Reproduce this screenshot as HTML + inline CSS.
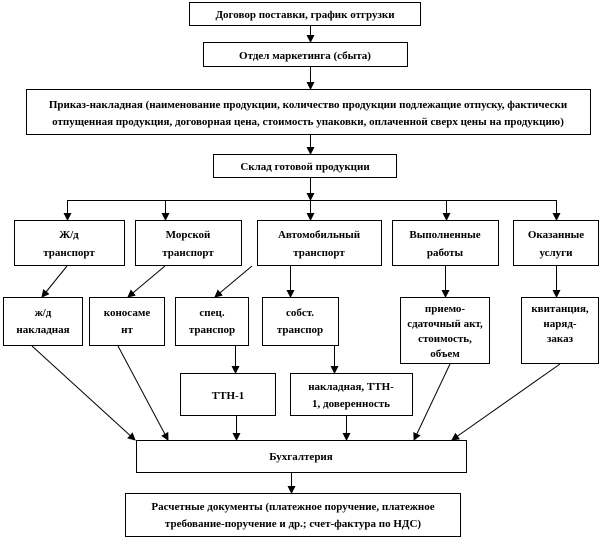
<!DOCTYPE html>
<html><head><meta charset="utf-8"><style>
body{margin:0;background:#fff}
svg text{font-family:"Liberation Serif",serif;font-size:11px;font-weight:bold;text-anchor:middle}
</style></head><body>
<svg width="606" height="540" viewBox="0 0 606 540" xmlns="http://www.w3.org/2000/svg">
<defs><marker id="a" markerWidth="8" markerHeight="8" refX="7" refY="4" orient="auto" markerUnits="userSpaceOnUse"><path d="M0,0 L8,4 L0,8 z" fill="#000"/></marker></defs>
<g fill="none" stroke="#000" stroke-width="1">
<rect x="189.5" y="2.5" width="231" height="23"/>
<rect x="203.5" y="42.5" width="204" height="24"/>
<rect x="26.5" y="89.5" width="564" height="45"/>
<rect x="213.5" y="154.5" width="183" height="23"/>
<rect x="14.5" y="220.5" width="110" height="45"/>
<rect x="135.5" y="220.5" width="106" height="45"/>
<rect x="257.5" y="220.5" width="124" height="45"/>
<rect x="392.5" y="220.5" width="106" height="45"/>
<rect x="513.5" y="220.5" width="85" height="45"/>
<rect x="3.5" y="297.5" width="79" height="48"/>
<rect x="89.5" y="297.5" width="75" height="48"/>
<rect x="175.5" y="297.5" width="73" height="48"/>
<rect x="262.5" y="297.5" width="76" height="48"/>
<rect x="400.5" y="297.5" width="89" height="66"/>
<rect x="521.5" y="297.5" width="77" height="66"/>
<rect x="180.5" y="373.5" width="95" height="42"/>
<rect x="290.5" y="373.5" width="122" height="42"/>
<rect x="136.5" y="440.5" width="330" height="32"/>
<rect x="125.5" y="493.5" width="335" height="43"/>
<g marker-end="url(#a)">
<line x1="310.5" y1="26" x2="310.5" y2="42"/>
<line x1="310.5" y1="67" x2="310.5" y2="89"/>
<line x1="310.5" y1="135" x2="310.5" y2="154"/>
<line x1="310.5" y1="178" x2="310.5" y2="200"/>
<line x1="67.5" y1="200" x2="67.5" y2="220"/>
<line x1="165.5" y1="200" x2="165.5" y2="220"/>
<line x1="310.5" y1="200" x2="310.5" y2="220"/>
<line x1="446.5" y1="200" x2="446.5" y2="220"/>
<line x1="556.5" y1="200" x2="556.5" y2="220"/>
<line x1="67" y1="266" x2="42" y2="297"/>
<line x1="165" y1="266" x2="128" y2="297"/>
<line x1="252" y1="266" x2="215" y2="297"/>
<line x1="290.5" y1="266" x2="290.5" y2="297"/>
<line x1="445.5" y1="266" x2="445.5" y2="297"/>
<line x1="556.5" y1="266" x2="556.5" y2="297"/>
<line x1="235.5" y1="346" x2="235.5" y2="373"/>
<line x1="334.5" y1="346" x2="334.5" y2="373"/>
<line x1="32" y1="346" x2="135" y2="440"/>
<line x1="118" y1="346" x2="168" y2="440"/>
<line x1="236.5" y1="416" x2="236.5" y2="440"/>
<line x1="346.5" y1="416" x2="346.5" y2="440"/>
<line x1="450" y1="364" x2="414" y2="440"/>
<line x1="560" y1="364" x2="452" y2="440"/>
<line x1="291.5" y1="473" x2="291.5" y2="493"/>
</g>
<line x1="67" y1="200.5" x2="557" y2="200.5"/>
</g>
<text x="305" y="18">Договор поставки, график отгрузки</text>
<text x="305" y="59">Отдел маркетинга (сбыта)</text>
<text x="308" y="108">Приказ-накладная (наименование продукции, количество продукции подлежащие отпуску, фактически</text>
<text x="308" y="125">отпущенная продукция, договорная цена, стоимость упаковки, оплаченной сверх цены на продукцию)</text>
<text x="305" y="170">Склад готовой продукции</text>
<text x="69" y="238">Ж/д</text><text x="69" y="256">транспорт</text>
<text x="188" y="238">Морской</text><text x="188" y="256">транспорт</text>
<text x="319" y="238">Автомобильный</text><text x="319" y="256">транспорт</text>
<text x="445" y="238">Выполненные</text><text x="445" y="256">работы</text>
<text x="556" y="238">Оказанные</text><text x="556" y="256">услуги</text>
<text x="43" y="316">ж/д</text><text x="43" y="333">накладная</text>
<text x="127" y="316">коносаме</text><text x="127" y="333">нт</text>
<text x="212" y="316">спец.</text><text x="212" y="333">транспор</text>
<text x="300" y="316">собст.</text><text x="300" y="333">транспор</text>
<text x="445" y="312">приемо-</text><text x="445" y="327">сдаточный акт,</text><text x="445" y="342">стоимость,</text><text x="445" y="357">объем</text>
<text x="560" y="312">квитанция,</text><text x="560" y="327">наряд-</text><text x="560" y="342">заказ</text>
<text x="228" y="399">ТТН-1</text>
<text x="351" y="390">накладная, ТТН-</text><text x="351" y="407">1, доверенность</text>
<text x="301" y="460">Бухгалтерия</text>
<text x="293" y="510">Расчетные документы (платежное поручение, платежное</text>
<text x="293" y="527">требование-поручение и др.; счет-фактура по НДС)</text>
</svg>
</body></html>
